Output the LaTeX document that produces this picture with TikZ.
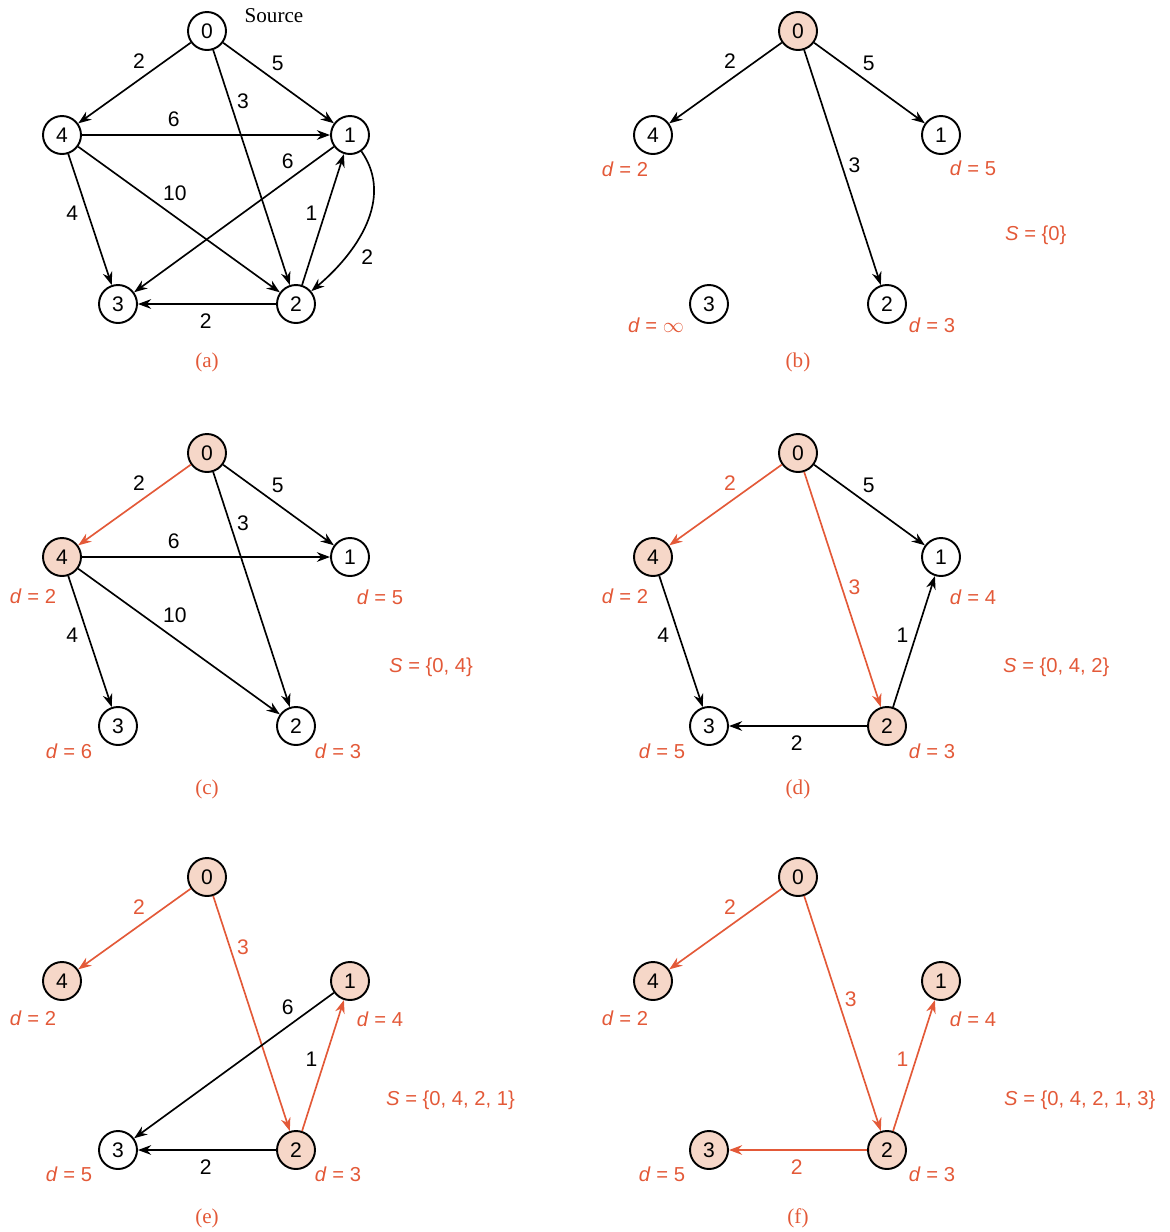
\documentclass[tikz,border=0pt]{standalone}
\usepackage{fontspec}
\setmainfont{Liberation Serif}
\setsansfont{Liberation Sans}
\usetikzlibrary{arrows.meta}
\definecolor{hot}{RGB}{227,89,56}
\definecolor{peach}{RGB}{246,215,200}
\tikzset{
  vertex/.style={circle, draw, line width=1.1pt, minimum size=7.6mm, inner sep=0pt, font=\sffamily\fontsize{12}{14}\selectfont},
  settled/.style={vertex, fill=peach},
  link/.style={line width=0.95pt, -{Stealth[length=7.5pt,width=5.5pt]}},
  treelink/.style={link, hot},
  wt/.style={inner sep=2pt, text=black, font=\sffamily\fontsize{12}{14}\selectfont},
  hotwt/.style={wt, text=hot},
  dist/.style={text=hot, font=\sffamily\fontsize{11.5}{13}\selectfont},
  subcap/.style={text=hot, font=\fontsize{12}{14}\selectfont}
}

\begin{document}
\begin{tikzpicture}
  \useasboundingbox (0,0) rectangle (23.4,-24.64);

  % (a) the whole graph
  \begin{scope}[shift={(4.14,-0.62)}]
    \node[vertex] (a0) at (0,0) {0};
    \node[vertex] (a4) at (-2.90,-2.08) {4};
    \node[vertex] (a1) at (2.86,-2.08) {1};
    \node[vertex] (a3) at (-1.78,-5.46) {3};
    \node[vertex] (a2) at (1.78,-5.46) {2};
    \node[font=\fontsize{12}{14}\selectfont] (src) at (1.34,0.30) {Source};
    \draw[link] (a0) -- node[wt, pos=.37, above left] {2} (a4);
    \draw[link] (a0) -- node[wt, pos=.40, above right] {5} (a1);
    \draw[link] (a0) -- node[wt, pos=.22, right=1.5pt] {3} (a2);
    \draw[link] (a4) -- node[wt, pos=.37, above=2pt] {6} (a1);
    \draw[link] (a1) -- node[wt, pos=.18, above left] {6} (a3);
    \draw[link] (a4) -- node[wt, pos=.40, above right] {10} (a2);
    \draw[link] (a2) -- node[wt, pos=.55, left=2pt] {1} (a1);
    \draw[link] (a4) -- node[wt, pos=.45, left=3pt] {4} (a3);
    \draw[link] (a1) to[out=-55, in=40] node[wt, pos=.73, right=7pt] {2} (a2);
    \draw[link] (a2) -- node[wt, pos=.51, below=3pt] {2} (a3);
    \node[subcap] (capa) at (0,-6.62) {(a)};
  \end{scope}

  % (b) S = {0}
  \begin{scope}[shift={(15.96,-0.62)}]
    \node[settled] (b0) at (0,0) {0};
    \node[vertex] (b4) at (-2.90,-2.08) {4};
    \node[vertex] (b1) at (2.86,-2.08) {1};
    \node[vertex] (b3) at (-1.78,-5.46) {3};
    \node[vertex] (b2) at (1.78,-5.46) {2};
    \draw[link] (b0) -- node[wt, pos=.37, above left] {2} (b4);
    \draw[link] (b0) -- node[wt, pos=.40, above right] {5} (b1);
    \draw[link] (b0) -- node[wt, pos=.49, right=1.5pt] {3} (b2);
    \node[dist] (b4d) at (-3.46,-2.76) {\textit{d} = 2};
    \node[dist] (b1d) at (3.50,-2.74) {\textit{d} = 5};
    \node[dist] (b3d) at (-2.84,-5.88) {\textit{d} = $\infty$};
    \node[dist] (b2d) at (2.68,-5.88) {\textit{d} = 3};
    \node[dist, anchor=west] (bS) at (4.02,-4.08) {\textit{S} = \{0\}};
    \node[subcap] (capb) at (0,-6.62) {(b)};
  \end{scope}

  % (c) S = {0, 4}
  \begin{scope}[shift={(4.14,-9.06)}]
    \node[settled] (c0) at (0,0) {0};
    \node[settled] (c4) at (-2.90,-2.08) {4};
    \node[vertex] (c1) at (2.86,-2.08) {1};
    \node[vertex] (c3) at (-1.78,-5.46) {3};
    \node[vertex] (c2) at (1.78,-5.46) {2};
    \draw[treelink] (c0) -- node[wt, pos=.37, above left] {2} (c4);
    \draw[link] (c0) -- node[wt, pos=.40, above right] {5} (c1);
    \draw[link] (c0) -- node[wt, pos=.22, right=1.5pt] {3} (c2);
    \draw[link] (c4) -- node[wt, pos=.37, above=2pt] {6} (c1);
    \draw[link] (c4) -- node[wt, pos=.40, above right] {10} (c2);
    \draw[link] (c4) -- node[wt, pos=.45, left=3pt] {4} (c3);
    \node[dist] (c4d) at (-3.48,-2.86) {\textit{d} = 2};
    \node[dist] (c1d) at (3.46,-2.88) {\textit{d} = 5};
    \node[dist] (c3d) at (-2.76,-5.96) {\textit{d} = 6};
    \node[dist] (c2d) at (2.62,-5.96) {\textit{d} = 3};
    \node[dist, anchor=west] (cS) at (3.52,-4.28) {\textit{S} = \{0, 4\}};
    \node[subcap] (capc) at (0,-6.72) {(c)};
  \end{scope}

  % (d) S = {0, 4, 2}
  \begin{scope}[shift={(15.96,-9.06)}]
    \node[settled] (d0) at (0,0) {0};
    \node[settled] (d4) at (-2.90,-2.08) {4};
    \node[vertex] (d1) at (2.86,-2.08) {1};
    \node[vertex] (d3) at (-1.78,-5.46) {3};
    \node[settled] (d2) at (1.78,-5.46) {2};
    \draw[treelink] (d0) -- node[hotwt, pos=.37, above left] {2} (d4);
    \draw[link] (d0) -- node[wt, pos=.40, above right] {5} (d1);
    \draw[treelink] (d0) -- node[hotwt, pos=.49, right=1.5pt] {3} (d2);
    \draw[link] (d4) -- node[wt, pos=.45, left=3pt] {4} (d3);
    \draw[link] (d2) -- node[wt, pos=.55, left=2pt] {1} (d1);
    \draw[link] (d2) -- node[wt, pos=.51, below=3pt] {2} (d3);
    \node[dist] (d4d) at (-3.46,-2.86) {\textit{d} = 2};
    \node[dist] (d1d) at (3.50,-2.88) {\textit{d} = 4};
    \node[dist] (d3d) at (-2.72,-5.96) {\textit{d} = 5};
    \node[dist] (d2d) at (2.68,-5.96) {\textit{d} = 3};
    \node[dist, anchor=west] (dS) at (3.98,-4.28) {\textit{S} = \{0, 4, 2\}};
    \node[subcap] (capd) at (0,-6.72) {(d)};
  \end{scope}

  % (e) S = {0, 4, 2, 1}
  \begin{scope}[shift={(4.14,-17.54)}]
    \node[settled] (e0) at (0,0) {0};
    \node[settled] (e4) at (-2.90,-2.08) {4};
    \node[settled] (e1) at (2.86,-2.08) {1};
    \node[vertex] (e3) at (-1.78,-5.46) {3};
    \node[settled] (e2) at (1.78,-5.46) {2};
    \draw[treelink] (e0) -- node[hotwt, pos=.37, above left] {2} (e4);
    \draw[treelink] (e0) -- node[hotwt, pos=.22, right=1.5pt] {3} (e2);
    \draw[link] (e1) -- node[wt, pos=.18, above left] {6} (e3);
    \draw[treelink] (e2) -- node[wt, pos=.55, left=2pt] {1} (e1);
    \draw[link] (e2) -- node[wt, pos=.51, below=3pt] {2} (e3);
    \node[dist] (e4d) at (-3.48,-2.82) {\textit{d} = 2};
    \node[dist] (e1d) at (3.46,-2.84) {\textit{d} = 4};
    \node[dist] (e3d) at (-2.76,-5.94) {\textit{d} = 5};
    \node[dist] (e2d) at (2.62,-5.94) {\textit{d} = 3};
    \node[dist, anchor=west] (eS) at (3.46,-4.46) {\textit{S} = \{0, 4, 2, 1\}};
    \node[subcap] (cape) at (0,-6.82) {(e)};
  \end{scope}

  % (f) S = {0, 4, 2, 1, 3}
  \begin{scope}[shift={(15.96,-17.54)}]
    \node[settled] (f0) at (0,0) {0};
    \node[settled] (f4) at (-2.90,-2.08) {4};
    \node[settled] (f1) at (2.86,-2.08) {1};
    \node[settled] (f3) at (-1.78,-5.46) {3};
    \node[settled] (f2) at (1.78,-5.46) {2};
    \draw[treelink] (f0) -- node[hotwt, pos=.37, above left] {2} (f4);
    \draw[treelink] (f0) -- node[hotwt, pos=.44, right=1.5pt] {3} (f2);
    \draw[treelink] (f2) -- node[hotwt, pos=.55, left=2pt] {1} (f1);
    \draw[treelink] (f2) -- node[hotwt, pos=.51, below=3pt] {2} (f3);
    \node[dist] (f4d) at (-3.46,-2.82) {\textit{d} = 2};
    \node[dist] (f1d) at (3.50,-2.84) {\textit{d} = 4};
    \node[dist] (f3d) at (-2.72,-5.94) {\textit{d} = 5};
    \node[dist] (f2d) at (2.68,-5.94) {\textit{d} = 3};
    \node[dist, anchor=west] (fS) at (4.00,-4.46) {\textit{S} = \{0, 4, 2, 1, 3\}};
    \node[subcap] (capf) at (0,-6.82) {(f)};
  \end{scope}
\end{tikzpicture}
\end{document}
